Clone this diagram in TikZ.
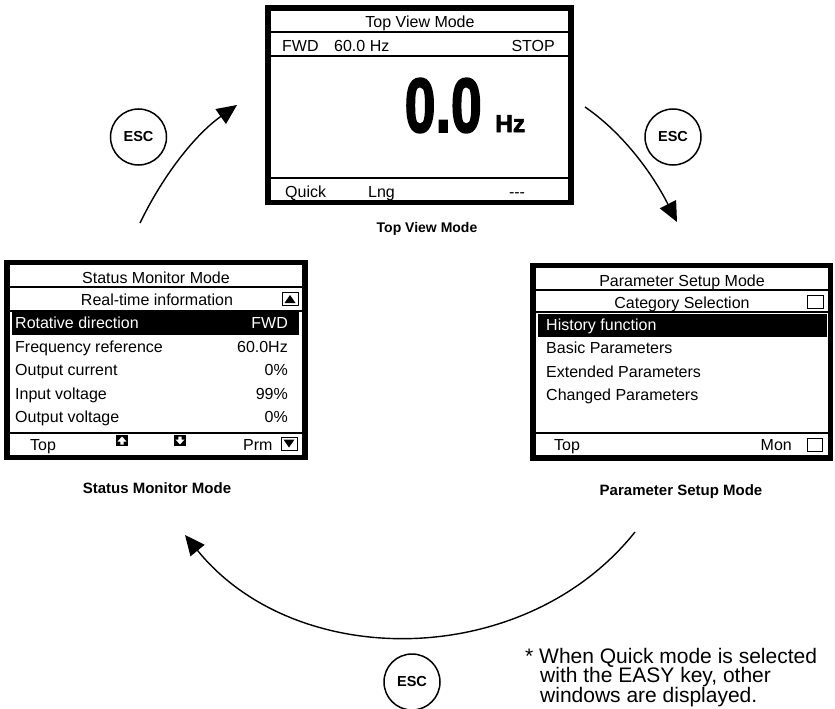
\documentclass[tikz,border=0pt]{standalone}
\usepackage{fontspec}
\usepackage{graphicx}
\setmainfont{Liberation Sans}
\newfontfamily\heavyfont[FakeBold=2.5]{Liberation Sans Bold}
\usetikzlibrary{arrows.meta}

\tikzset{
  screen/.style={line width=5.5pt},
  sep/.style={line width=1.2pt},
  lcdtext/.style={font=\fontsize{16}{18}\selectfont, inner sep=0pt, anchor=base west},
  lcdright/.style={lcdtext, anchor=base east},
  lcdmid/.style={lcdtext, anchor=base},
  caption/.style={font=\bfseries\fontsize{15}{17}\selectfont, inner sep=0pt, anchor=base},
  esckey/.style={circle, draw, line width=1.5pt, minimum size=56pt, inner sep=0pt,
    font=\bfseries\fontsize{14.5}{16}\selectfont},
  flow/.style={line width=1.4pt, -{Triangle[length=20pt,width=18pt]}},
  notetext/.style={font=\fontsize{21}{22}\selectfont, inner sep=0pt, anchor=base west},
}

\begin{document}
\begin{tikzpicture}[x=1pt,y=-1pt]
\useasboundingbox (0,0) rectangle (835,709);

% top view screen
\draw[screen] (268,8) rectangle (571,202.5);
\draw[sep] (268,32) -- (571,32);
\draw[sep] (268,56) -- (571,56);
\draw[sep] (268,178) -- (571,178);
\node[lcdmid] (tv-title) at (420,28) {Top View Mode};
\node[lcdtext] (tv-dir) at (282,52) {FWD};
\node[lcdtext] (tv-ref) at (334,52) {60.0 Hz};
\node[lcdright] (tv-state) at (555,52) {STOP};
\node[anchor=base east, inner sep=0pt, font=\heavyfont\fontsize{77}{80}\selectfont] (tv-freq) at (482,132) {\scalebox{0.72}[1]{0.0}};
\node[anchor=base west, inner sep=0pt, font=\heavyfont\fontsize{24.5}{26}\selectfont] (tv-unit) at (495,132) {Hz};
\node[lcdtext] (tv-quick) at (285,197) {Quick};
\node[lcdtext] (tv-lng) at (368,197) {Lng};
\node[lcdmid] (tv-none) at (517,197) {-{}-{}-};
\node[caption, font=\bfseries\fontsize{14}{16}\selectfont] (tv-cap) at (427,232) {Top View Mode};

% status monitor screen
\draw[screen] (7,262.5) rectangle (305,457.5);
\draw[sep] (7,287) -- (305,287);
\draw[sep] (7,311) -- (305,311);
\draw[sep] (7,433) -- (305,433);
\fill (12,311) rectangle (299,335);
\node[lcdmid] (sm-title) at (156,283) {Status Monitor Mode};
\node[lcdmid] (sm-sub) at (157,305) {Real-time information};
\draw[line width=1pt] (282,292) rectangle (298,305);
\fill (284.5,303) -- (295.5,303) -- (290,295) -- cycle;
\node[lcdtext, text=white] (sm-dir) at (15,328.5) {Rotative direction};
\node[lcdright, text=white] (sm-dir-v) at (288,328.5) {FWD};
\node[lcdtext] (sm-ref) at (15,352) {Frequency reference};
\node[lcdright] (sm-ref-v) at (288,352) {60.0Hz};
\node[lcdtext] (sm-cur) at (15,375.5) {Output current};
\node[lcdright] (sm-cur-v) at (288,375.5) {0\%};
\node[lcdtext] (sm-vin) at (15,399) {Input voltage};
\node[lcdright] (sm-vin-v) at (288,399) {99\%};
\node[lcdtext] (sm-vout) at (15,422.5) {Output voltage};
\node[lcdright] (sm-vout-v) at (288,422.5) {0\%};
\node[lcdmid] (sm-top) at (43,450) {Top};
\fill (116,435) rectangle (128,446);
\fill[white] (122,436.5) -- (126.5,441.5) -- (123.7,441.5) -- (123.7,444.5) -- (120.3,444.5) -- (120.3,441.5) -- (117.5,441.5) -- cycle;
\fill (174,435) rectangle (186,446);
\fill[white] (180,444.5) -- (184.5,439.5) -- (181.7,439.5) -- (181.7,436.5) -- (178.3,436.5) -- (178.3,439.5) -- (175.5,439.5) -- cycle;
\node[lcdtext] (sm-prm) at (243,450) {Prm};
\draw[line width=1pt] (281,437) rectangle (297,450);
\fill (283.5,439.5) -- (294.5,439.5) -- (289,447.5) -- cycle;
\node[caption] (sm-cap) at (157,493) {Status Monitor Mode};

% parameter setup screen
\draw[screen] (533,265.5) rectangle (830.5,458);
\draw[sep] (533,290) -- (830.5,290);
\draw[sep] (533,312) -- (830.5,312);
\draw[sep] (533,433) -- (830.5,433);
\fill (538,314) rectangle (827,337);
\node[lcdmid] (ps-title) at (682,286) {Parameter Setup Mode};
\node[lcdmid] (ps-sub) at (682,308) {Category Selection};
\draw[line width=1pt] (807,295) rectangle (823,308);
\node[lcdtext, text=white] (ps-hist) at (546,330) {History function};
\node[lcdtext] (ps-basic) at (546,353) {Basic Parameters};
\node[lcdtext] (ps-ext) at (546,377) {Extended Parameters};
\node[lcdtext] (ps-chg) at (546,400) {Changed Parameters};
\node[lcdmid] (ps-top) at (567,450) {Top};
\node[lcdright] (ps-mon) at (792,450) {Mon};
\draw[line width=1pt] (807,438) rectangle (822,451);
\node[caption] (ps-cap) at (681,495) {Parameter Setup Mode};

% esc keys and transitions
\node[esckey] (esc-left) at (138.5,137) {ESC};
\node[esckey] (esc-right) at (673,137) {ESC};
\node[esckey] (esc-bottom) at (412,682) {ESC};

\coordinate (to-top-s) at (140,223);
\coordinate (to-top-e) at (237,105);
\coordinate (to-prm-s) at (585,107);
\coordinate (to-prm-e) at (677,222);
\coordinate (to-mon-s) at (635,532);
\coordinate (to-mon-e) at (185,535);
\draw[flow] (to-top-s) .. controls (164,173.5) and (196,134) .. (to-top-e);
\draw[flow] (to-prm-s) .. controls (620,131) and (650,169) .. (to-prm-e);
\draw[flow] (to-mon-s) .. controls (525,670) and (296,672) .. (to-mon-e);

% footnote
\node[notetext] (note-1) at (525,663) {* When Quick mode is selected};
\node[notetext] (note-2) at (540,682.5) {with the EASY key, other};
\node[notetext] (note-3) at (540,702) {windows are displayed.};
\end{tikzpicture}
\end{document}
